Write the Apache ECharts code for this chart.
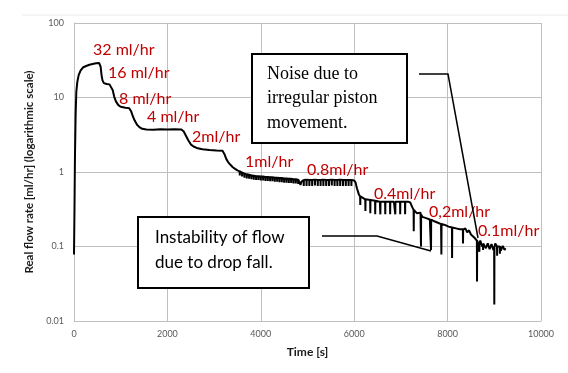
<!DOCTYPE html>
<html>
<head>
<meta charset="utf-8">
<script src="https://cdn.jsdelivr.net/npm/echarts@6/dist/echarts.min.js"></script>
<style>
html,body{margin:0;padding:0;background:#fff;}
#chart{width:568px;height:373px;}
</style>
</head>
<body>
<div id="chart"></div>
<script>
// Baseline flow trace: [time s, flow ml/hr]
const baseFlow = [
  [0,0.078],[10,0.3],[20,1.5],[35,6],[50,12],[70,16],[100,20],[140,23],[200,25.5],[260,26.5],
  [330,27.5],[400,28.2],[470,28.8],[540,29],[570,26],[590,20],[610,17],[640,15.6],[700,15.2],
  [760,15],[800,14.6],[830,12.5],[860,10.3],[900,8.8],[950,7.9],[1000,7.5],[1100,7.3],[1180,7.2],
  [1220,6.6],[1260,5.6],[1300,4.9],[1350,4.3],[1400,4.0],[1460,3.8],[1550,3.72],[1700,3.7],
  [1850,3.75],[2000,3.72],[2150,3.75],[2300,3.73],[2350,3.5],[2400,3.05],[2450,2.65],[2500,2.35],
  [2560,2.2],[2650,2.08],[2750,2.02],[2900,1.98],[3050,1.95],[3180,1.93],[3220,1.75],[3260,1.5],
  [3300,1.36],[3350,1.25],[3400,1.16],[3450,1.1],[3500,1.05],
  [4820,0.78],[4850,0.67],[4870,0.74],[4880,0.78],
  [6000,0.77],[6030,0.72],[6060,0.6],[6100,0.5],[6150,0.46],[6250,0.43],[6350,0.42],[6450,0.41],
  [6550,0.4],[6700,0.4],[6850,0.4],[7000,0.4],[7150,0.4],[7200,0.39],[7240,0.34],[7290,0.3],
  [7340,0.28],[7380,0.27],[7420,0.285],[7460,0.25],[7500,0.26],[7540,0.24],[7580,0.25],[7620,0.23],
  [7660,0.235],[7700,0.22],[7740,0.23],[7780,0.21],[7820,0.22],[7860,0.2],[7900,0.21],[7940,0.195],
  [7980,0.205],[8020,0.185],[8060,0.195],[8100,0.18],[8140,0.19],[8180,0.175],[8220,0.185],[8260,0.17],
  [8300,0.18],[8340,0.165],[8380,0.175],[8420,0.155],[8460,0.165],[8500,0.145],[8540,0.15],[8580,0.13],
  [8620,0.125],[8660,0.105],[8700,0.12],[8740,0.1],[8780,0.115],[8820,0.095],[8860,0.11],[8900,0.092],
  [8940,0.108],[8980,0.09],[9020,0.11],[9060,0.085],[9100,0.105],[9140,0.088],[9180,0.102],[9220,0.09],
  [9240,0.095]
];
// Drop-fall spikes: [time s, level before/after, bottom of spike]
const spikes = [
  [3550,1.02,0.9],[3600,0.98,0.87],[3650,0.95,0.84],[3700,0.93,0.82],[3750,0.92,0.81],[3800,0.9,0.8],
  [3850,0.89,0.79],[3900,0.88,0.78],[3950,0.88,0.78],[4000,0.87,0.77],[4050,0.87,0.77],[4100,0.86,0.76],
  [4150,0.86,0.76],[4200,0.85,0.75],[4250,0.85,0.75],[4300,0.84,0.74],[4350,0.84,0.74],[4400,0.83,0.73],
  [4450,0.83,0.73],[4500,0.82,0.72],[4550,0.82,0.72],[4600,0.81,0.71],[4650,0.81,0.71],[4700,0.8,0.7],
  [4750,0.8,0.7],[4800,0.79,0.69],
  [4920,0.78,0.65],[4980,0.79,0.65],[5040,0.78,0.65],[5100,0.78,0.65],[5160,0.79,0.66],[5220,0.78,0.65],
  [5280,0.78,0.65],[5340,0.79,0.65],[5400,0.78,0.65],[5460,0.78,0.65],[5520,0.79,0.66],[5580,0.78,0.65],
  [5640,0.78,0.65],[5700,0.79,0.65],[5760,0.78,0.65],[5820,0.78,0.65],[5880,0.78,0.65],[5940,0.78,0.65],
  [6130,0.47,0.36],[6240,0.43,0.3],[6345,0.42,0.28],[6450,0.41,0.27],[6560,0.4,0.27],[6665,0.4,0.27],
  [6770,0.4,0.27],[6880,0.4,0.27],[6985,0.4,0.27],[7090,0.4,0.27],
  [7275,0.31,0.16],[7430,0.27,0.10],[7645,0.23,0.09],[7867,0.2,0.078],[8096,0.18,0.07],[8330,0.17,0.11],
  [8630,0.12,0.034],[8680,0.11,0.085],[8760,0.11,0.09],[9000,0.098,0.0166],[9060,0.1,0.075],[9120,0.1,0.08]
];
const xTicks = [0,2000,4000,6000,8000,10000];
const yTickLabels = ['0.01','0.1','1','10','100'];
const rateLabels = ['32 ml/hr','16 ml/hr','8 ml/hr','4 ml/hr','2ml/hr','1ml/hr','0.8ml/hr','0.4ml/hr','0,2ml/hr','0.1ml/hr'];
const noiseNote = ['Noise due to','irregular piston','movement.'];
const dropNote = ['Instability of flow','due to drop fall.'];

const series = baseFlow.slice();
spikes.forEach(s => { series.push([s[0]-3, s[1]], [s[0], s[2]], [s[0]+3, s[1]]); });
series.sort((a,b) => a[0]-b[0]);

const labelPos = [[93,50],[108,73],[119,99],[147,117],[192,137],[245,162],[307,170],[374,194],[429,212],[478,231]];
const graphics = [
  {type:'line', shape:{x1:22,y1:15,x2:568,y2:15}, style:{stroke:'#ececec', lineWidth:1}, silent:true}
];
rateLabels.forEach((t,i) => graphics.push({
  type:'text', x:labelPos[i][0], y:labelPos[i][1], z:50,
  style:{text:t, fill:'#c00000', font:'16px Lato', verticalAlign:'middle', align:'left'}
}));
graphics.push({type:'rect', z:60, shape:{x:252,y:54,width:155,height:89}, style:{fill:'#fff', stroke:'#000', lineWidth:2}});
noiseNote.forEach((t,i) => graphics.push({type:'text', z:61, x:267, y:74+i*24.5,
  style:{text:t, fill:'#000', font:'18px "Liberation Serif"', verticalAlign:'middle'}}));
graphics.push({type:'polyline', z:60, shape:{points:[[419,74],[448,74],[478,238]]}, style:{stroke:'#000', lineWidth:1.5, fill:null}});
graphics.push({type:'rect', z:60, shape:{x:138,y:217,width:171,height:71}, style:{fill:'#fff', stroke:'#000', lineWidth:2}});
dropNote.forEach((t,i) => graphics.push({type:'text', z:61, x:155, y:238+i*25,
  style:{text:t, fill:'#000', font:'17px Lato', verticalAlign:'middle'}}));
graphics.push({type:'polyline', z:60, shape:{points:[[322,236],[377,236],[431,251]]}, style:{stroke:'#000', lineWidth:1.5, fill:null}});

const chart = echarts.init(document.getElementById('chart'), null, {renderer:'canvas'});
chart.setOption({
  animation:false,
  backgroundColor:'#fff',
  grid:{left:74, right:27, top:23, bottom:52, containLabel:false},
  xAxis:{
    type:'value', min:xTicks[0], max:xTicks[xTicks.length-1], interval:2000,
    name:'Time [s]', nameLocation:'middle', nameGap:25,
    nameTextStyle:{fontFamily:'Lato', fontWeight:'bold', fontSize:12, color:'#1a1a1a'},
    axisLine:{show:true, lineStyle:{color:'#bfbfbf', width:1}},
    axisTick:{show:false},
    axisLabel:{fontFamily:'Lato', fontSize:9, color:'#595959', margin:9,
      formatter: v => String(v)},
    splitLine:{show:true, lineStyle:{color:'#bfbfbf', width:1}}
  },
  yAxis:{
    type:'log', logBase:10, min:0.01, max:100,
    name:'Real flow rate [ml/hr] (logarithmic scale)', nameLocation:'middle', nameGap:36,
    nameTextStyle:{fontFamily:'Lato', fontWeight:'bold', fontSize:11.5, color:'#1a1a1a'},
    axisLine:{show:true, lineStyle:{color:'#bfbfbf', width:1}},
    axisTick:{show:false},
    axisLabel:{fontFamily:'Lato', fontSize:9, color:'#595959', margin:10,
      formatter: v => yTickLabels[Math.round(Math.log10(v)) + 2]},
    splitLine:{show:true, lineStyle:{color:'#bfbfbf', width:1}}
  },
  series:[{
    type:'line', data:series, showSymbol:false, symbol:'none',
    lineStyle:{color:'#000', width:2}, z:10
  }],
  graphic:graphics
});
</script>
</body>
</html>
